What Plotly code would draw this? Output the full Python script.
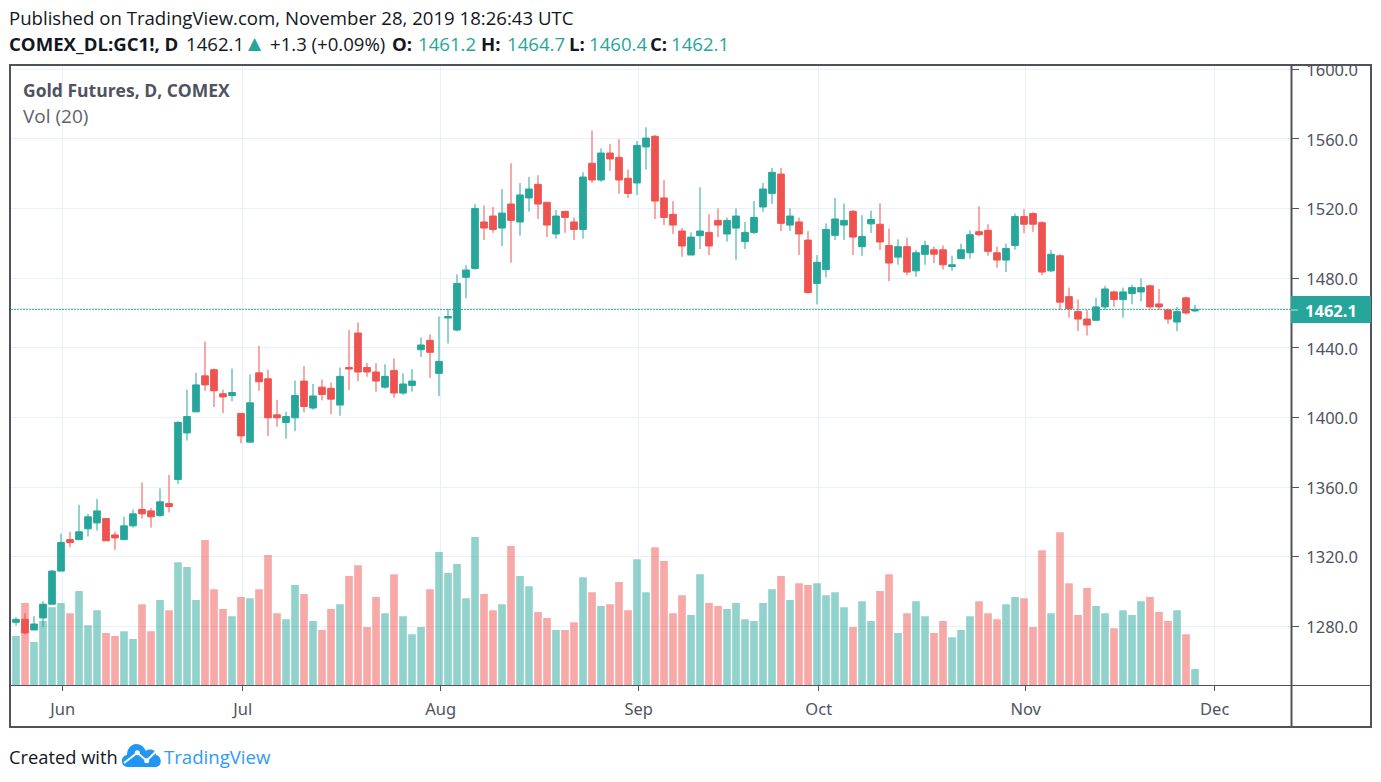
import plotly.graph_objects as go

W, H = 1381, 782

opens = [1282.3, 1284.0, 1277.9, 1284.8, 1292.7, 1311.7, 1329.8, 1329.8, 1336.0, 1339.4,
         1341.9, 1332.5, 1329.8, 1337.7, 1347.1, 1346.3, 1343.6, 1350.5, 1364.3, 1391.1,
         1403.2, 1423.9, 1427.4, 1413.6, 1412.6, 1402.3, 1385.8, 1425.6, 1422.2, 1401.5,
         1397.1, 1399.8, 1420.9, 1405.4, 1417.4, 1416.7, 1407.1, 1428.7, 1448.5, 1428.7,
         1426.1, 1417.4, 1427.0, 1414.0, 1418.4, 1438.9, 1444.3, 1425.3, 1457.1, 1450.2,
         1480.5, 1485.6, 1512.3, 1515.7, 1508.8, 1522.6, 1512.3, 1526.1, 1533.9, 1523.6,
         1505.4, 1518.4, 1512.3, 1508.0, 1546.0, 1536.4, 1551.9, 1549.4, 1537.4, 1534.7,
         1555.4, 1561.5, 1526.1, 1516.7, 1507.1, 1493.3, 1504.4, 1506.3, 1513.2, 1505.4,
         1508.8, 1501.0, 1506.3, 1520.9, 1528.7, 1539.8, 1510.5, 1512.3, 1501.9, 1477.0,
         1484.9, 1504.6, 1510.5, 1518.4, 1498.1, 1511.2, 1511.0, 1498.8, 1492.1, 1498.1,
         1484.2, 1493.7, 1496.3, 1496.3, 1486.7, 1491.2, 1494.6, 1506.7, 1507.5, 1494.6,
         1490.4, 1498.8, 1515.4, 1517.1, 1511.9, 1484.2, 1492.9, 1469.4, 1460.8, 1456.5,
         1455.8, 1463.5, 1472.1, 1467.7, 1471.2, 1472.1, 1475.6, 1465.2, 1461.7, 1454.8,
         1468.7, 1461.2]
highs = [1285.2, 1287.5, 1285.8, 1294.4, 1312.5, 1333.3, 1334.3, 1349.8, 1344.6, 1353.2,
         1341.9, 1334.3, 1342.9, 1347.1, 1362.6, 1348.0, 1359.2, 1367.0, 1398.0, 1416.0,
         1425.6, 1443.6, 1428.1, 1416.0, 1428.1, 1402.3, 1424.7, 1441.1, 1427.4, 1410.1,
         1403.2, 1421.2, 1429.5, 1419.2, 1421.8, 1420.1, 1428.7, 1450.2, 1454.6, 1431.2,
         1431.2, 1430.5, 1433.9, 1425.3, 1427.8, 1446.0, 1447.7, 1458.0, 1462.3, 1482.2,
         1487.4, 1522.6, 1521.8, 1520.9, 1531.2, 1546.0, 1534.7, 1538.1, 1539.1, 1523.6,
         1519.2, 1518.4, 1514.9, 1540.8, 1564.9, 1554.6, 1557.1, 1559.8, 1542.5, 1558.8,
         1566.7, 1562.3, 1536.4, 1524.3, 1508.8, 1506.3, 1532.2, 1516.7, 1520.1, 1514.9,
         1520.1, 1512.3, 1524.3, 1534.7, 1543.3, 1543.3, 1520.1, 1514.9, 1507.1, 1493.3,
         1511.5, 1526.1, 1522.9, 1519.2, 1516.2, 1518.8, 1523.1, 1508.5, 1502.3, 1503.3,
         1496.3, 1501.5, 1498.1, 1498.8, 1492.9, 1499.8, 1507.5, 1521.3, 1511.0, 1498.1,
         1499.8, 1517.1, 1519.6, 1517.9, 1512.7, 1496.3, 1493.7, 1474.6, 1467.7, 1461.7,
         1468.7, 1475.6, 1472.9, 1474.6, 1476.3, 1479.8, 1476.3, 1473.8, 1462.5, 1463.5,
         1469.4, 1464.7]
lows = [1280.4, 1275.2, 1277.9, 1279.6, 1292.7, 1311.7, 1325.4, 1329.8, 1331.6, 1335.0,
        1329.1, 1323.9, 1329.8, 1336.7, 1341.9, 1336.7, 1342.9, 1345.4, 1361.8, 1386.7,
        1403.2, 1415.3, 1405.9, 1402.5, 1409.3, 1385.2, 1385.8, 1415.3, 1389.4, 1394.6,
        1387.7, 1392.1, 1402.9, 1404.4, 1409.8, 1401.9, 1401.0, 1415.7, 1420.9, 1423.4,
        1414.8, 1416.5, 1411.3, 1413.0, 1414.8, 1434.7, 1422.6, 1412.3, 1442.5, 1449.4,
        1468.4, 1484.9, 1501.9, 1506.1, 1498.5, 1488.9, 1504.4, 1518.2, 1514.0, 1503.6,
        1502.7, 1506.1, 1501.9, 1502.7, 1534.7, 1535.4, 1541.6, 1528.5, 1526.1, 1527.8,
        1542.3, 1514.0, 1510.5, 1505.4, 1492.3, 1493.3, 1496.7, 1493.3, 1503.6, 1501.0,
        1490.6, 1496.7, 1505.4, 1518.2, 1522.6, 1507.1, 1507.1, 1493.3, 1470.9, 1464.9,
        1480.5, 1501.9, 1501.9, 1493.3, 1492.9, 1506.0, 1496.3, 1478.3, 1487.7, 1481.7,
        1480.8, 1487.7, 1488.7, 1485.0, 1484.2, 1491.2, 1491.2, 1504.2, 1492.9, 1486.0,
        1483.5, 1496.3, 1505.8, 1506.7, 1481.7, 1483.5, 1461.7, 1457.3, 1449.6, 1447.1,
        1455.8, 1461.7, 1463.5, 1457.3, 1465.0, 1466.7, 1462.5, 1461.7, 1453.8, 1449.6,
        1459.2, 1460.4]
closes = [1284.0, 1276.2, 1281.3, 1292.7, 1311.7, 1328.1, 1328.1, 1334.3, 1342.9, 1346.3,
          1329.1, 1330.8, 1337.7, 1344.6, 1344.6, 1342.9, 1351.5, 1348.8, 1397.1, 1400.5,
          1418.7, 1418.7, 1415.3, 1411.8, 1414.3, 1389.4, 1408.4, 1420.5, 1399.8, 1399.8,
          1400.5, 1412.6, 1406.3, 1412.3, 1413.2, 1410.5, 1423.6, 1427.8, 1426.1, 1426.1,
          1420.9, 1423.6, 1414.0, 1419.2, 1420.9, 1441.6, 1437.4, 1432.2, 1458.0, 1477.0,
          1484.7, 1520.1, 1508.8, 1508.0, 1517.4, 1513.2, 1527.8, 1531.2, 1522.6, 1510.5,
          1515.7, 1514.9, 1508.0, 1538.1, 1536.4, 1551.9, 1548.5, 1536.4, 1528.7, 1556.3,
          1560.5, 1524.3, 1514.9, 1510.5, 1498.5, 1503.6, 1507.1, 1498.5, 1510.5, 1513.2,
          1515.7, 1506.3, 1514.9, 1531.2, 1540.8, 1511.5, 1515.7, 1505.4, 1471.8, 1489.1,
          1508.0, 1514.0, 1513.2, 1503.6, 1504.0, 1513.7, 1500.8, 1488.7, 1498.1, 1483.5,
          1494.6, 1498.8, 1493.8, 1487.7, 1487.7, 1496.3, 1505.0, 1505.0, 1495.4, 1490.4,
          1497.1, 1515.4, 1511.0, 1511.0, 1483.5, 1493.7, 1466.2, 1462.5, 1456.5, 1453.1,
          1463.5, 1473.8, 1467.7, 1472.1, 1474.6, 1474.6, 1463.5, 1463.5, 1456.5, 1460.8,
          1460.0, 1462.1]
# volume, thousands of contracts (estimated)
volumes = [148, 247, 130, 193, 234, 247, 216, 283, 180, 225,
           157, 148, 162, 139, 243, 162, 256, 225, 369, 355,
           256, 436, 288, 229, 207, 265, 261, 288, 391, 216,
           198, 301, 274, 193, 166, 229, 243, 328, 360, 175,
           265, 216, 333, 207, 153, 175, 288, 400, 337, 364,
           261, 445, 274, 225, 243, 418, 328, 297, 220, 202,
           166, 166, 189, 324, 279, 238, 243, 310, 225, 378,
           279, 414, 373, 216, 270, 211, 333, 247, 238, 229,
           247, 198, 193, 247, 288, 328, 256, 306, 301, 306,
           270, 279, 234, 175, 252, 193, 283, 333, 157, 216,
           252, 207, 157, 193, 144, 166, 207, 252, 216, 198,
           243, 265, 261, 175, 405, 216, 459, 306, 211, 292,
           238, 216, 171, 225, 211, 252, 265, 220, 193, 225,
           153, 49]

month_index = [5, 25, 47, 69, 89, 112, 133]
month_labels = ["Jun", "Jul", "Aug", "Sep", "Oct", "Nov", "Dec"]
price_ticks = [1280, 1320, 1360, 1400, 1440, 1480, 1520, 1560, 1600]

UP, DOWN = "#26a69a", "#ef5350"
FRAME = "#50535e"
TEXT = "#50535e"
GRID = "#e9f1f6"
AXIS_FONT = "Noto Sans"
HEAD_FONT = "Open Sans"

L, R, T, B = 11, 1291, 66, 685.3


def px(x):
    return x / W


def py(y):
    return 1 - y / H


days = list(range(len(opens)))
colors = [UP if c >= o else DOWN for o, c in zip(opens, closes)]

fig = go.Figure()
fig.add_trace(go.Bar(x=days, y=volumes, marker=dict(color=colors, opacity=0.5, line_width=0),
                     width=0.85, yaxis="y", xaxis="x", showlegend=False))
fig.add_trace(go.Candlestick(x=days, open=opens, high=highs, low=lows, close=closes,
                             yaxis="y2", xaxis="x", showlegend=False, whiskerwidth=0,
                             increasing=dict(line=dict(color=UP, width=1), fillcolor=UP),
                             decreasing=dict(line=dict(color=DOWN, width=1), fillcolor=DOWN)))

shapes = []


def line(x0, y0, x1, y1, color=FRAME, width=1, dash="solid", layer="above"):
    shapes.append(dict(type="line", xref="paper", yref="paper", x0=px(x0), y0=py(y0), x1=px(x1), y1=py(y1),
                       line=dict(color=color, width=width, dash=dash), layer=layer))


def rect(x0, y0, x1, y1, fill=None, color=None, width=0):
    shapes.append(dict(type="rect", xref="paper", yref="paper", x0=px(x0), y0=py(y0), x1=px(x1), y1=py(y1),
                       fillcolor=fill if fill else "rgba(0,0,0,0)",
                       line=dict(color=color if color else "rgba(0,0,0,0)", width=width), layer="above"))


# mask over the part of the top tick label that is clipped by the frame
rect(1292, 54, 1372, 65, fill="white")
# last price dotted line
shapes.append(dict(type="line", xref="paper", yref="y2", x0=px(L), x1=px(R), y0=closes[-1], y1=closes[-1],
                   line=dict(color=UP, width=1, dash="2px,1px"), layer="above"))
# frame
rect(10, 65, 1371, 727, color=FRAME, width=2)
line(1291.5, 66, 1291.5, 727, width=2)
line(11, 685.5, 1371, 685.5, width=1)
# price label
rect(1291, 296, 1371, 323, fill=UP)
line(1291, 310, 1298, 310, color="#bfe5e1", width=1)

# logo
def pth(cmds):
    out = []
    for c in cmds:
        if isinstance(c, str):
            out.append(c)
        else:
            out.append(f"{px(c[0]):.5f},{py(c[1]):.5f}")
    return " ".join(out)


cloud = pth(["M", (128, 767), "C", (120, 767), (120, 756), (127, 755),
             "C", (127, 748), (132, 744), (136, 744),
             "C", (141, 744), (144, 747), (146, 751),
             "C", (150, 748), (156, 750), (156, 755),
             "C", (162, 756), (163, 767), (155, 767), "Z"])
shapes.append(dict(type="path", xref="paper", yref="paper", path=cloud, fillcolor="#2196f3",
                   line=dict(width=0), layer="above"))
zig = pth(["M", (124, 763), "L", (137.3, 752.7), "L", (146.7, 760.7), "L", (156.7, 750.7)])
shapes.append(dict(type="path", xref="paper", yref="paper", path=zig, line=dict(color="white", width=2), layer="above"))
for cx, cy in [(137.3, 752.7), (146.7, 760.7)]:
    shapes.append(dict(type="circle", xref="paper", yref="paper", x0=px(cx - 2.5), x1=px(cx + 2.5), y0=py(cy + 2.5), y1=py(cy - 2.5),
                       fillcolor="white", line_width=0, layer="above"))

ann = []


def label(x, y, text, size, color="#131722", bold=False, font=HEAD_FONT, anchor="left"):
    ann.append(dict(xref="paper", yref="paper", x=px(x), y=py(y), xanchor=anchor, yanchor="middle", showarrow=False,
                    text=f"<b>{text}</b>" if bold else text, borderpad=0, borderwidth=0,
                    font=dict(family=font, size=size, color=color)))


HEAD = 18.6
label(9, 18, "Published on TradingView.com, November 28, 2019 18:26:43 UTC", HEAD)
label(9, 43, "COMEX_DL:GC1!, D", HEAD, bold=True)
label(186, 43, f"{closes[-1]:.1f}", HEAD)
label(248, 43, "▲", 17, color=UP, font="DejaVu Sans")
label(270, 43, "+1.3 (+0.09%)", HEAD)
label(392, 43, "O:", HEAD, bold=True)
label(418, 43, f"{opens[-1]:.1f}", HEAD, color=UP)
label(481, 43, "H:", HEAD, bold=True)
label(507, 43, f"{highs[-1]:.1f}", HEAD, color=UP)
label(569, 43, "L:", HEAD, bold=True)
label(589, 43, f"{lows[-1]:.1f}", HEAD, color=UP)
label(650, 43, "C:", HEAD, bold=True)
label(671, 43, f"{closes[-1]:.1f}", HEAD, color=UP)
label(23, 90, "Gold Futures, D, COMEX", 17.5, color=TEXT, bold=True)
label(23, 116, "Vol (20)", 19, color="#5f626d")
label(9, 756, "Created with", 18.3)
label(164, 756, "TradingView", 18.6, color="#2e9bf5")
label(1331, 310, f"{closes[-1]:.1f}", 16.5, color="white", bold=True, font=AXIS_FONT, anchor="center")

# x offset of the month ticks relative to the day centres
TICK_SHIFT = 0.19
x0_px, step_px = 16, 9
x_range = [(L - x0_px) / step_px, (R - x0_px) / step_px]

# price axis scale: 1280 at y=626.3, 1.7406 px per dollar
price_range = [1280 - (B - 626.3) / 1.7406, 1280 + (626.3 - T) / 1.7406]

fig.update_layout(
    width=W, height=H, autosize=False,
    margin=dict(l=0, r=0, t=0, b=0, pad=0),
    paper_bgcolor="white", plot_bgcolor="white",
    boxgap=0.15, boxgroupgap=0.13, bargap=0.15,
    showlegend=False,
    shapes=shapes, annotations=ann,
    xaxis=dict(domain=[px(L), px(R)], range=x_range, rangeslider=dict(visible=False), automargin=False,
               tickmode="array", tickvals=[i + TICK_SHIFT for i in month_index], ticktext=month_labels,
               ticks="outside", ticklen=5, tickcolor=FRAME, tickwidth=1,
               showgrid=True, gridcolor=GRID, gridwidth=1, zeroline=False, showline=False,
               tickfont=dict(family=AXIS_FONT, size=16.5, color=TEXT), anchor="y", ticklabelstandoff=4),
    yaxis=dict(domain=[py(B), py(T)], range=[0, (B - T) * 3], visible=False, showgrid=False, zeroline=False, fixedrange=True, automargin=False),
    yaxis2=dict(domain=[py(B), py(T)], range=price_range, overlaying="y", side="right", anchor="x", automargin=False,
                tickmode="array", tickvals=price_ticks, ticktext=[f"{v:.1f}" for v in price_ticks],
                ticks="outside", ticklen=7, tickcolor=FRAME, tickwidth=1,
                showgrid=True, gridcolor=GRID, gridwidth=1, zeroline=False, showline=False,
                tickfont=dict(family=AXIS_FONT, size=16.5, color=TEXT), ticklabelstandoff=4, ticklabelshift=1),
)

fig.write_html("out.html", config=dict(displayModeBar=False),
               post_script="document.body.style.margin='0';document.body.style.overflow='hidden';")
